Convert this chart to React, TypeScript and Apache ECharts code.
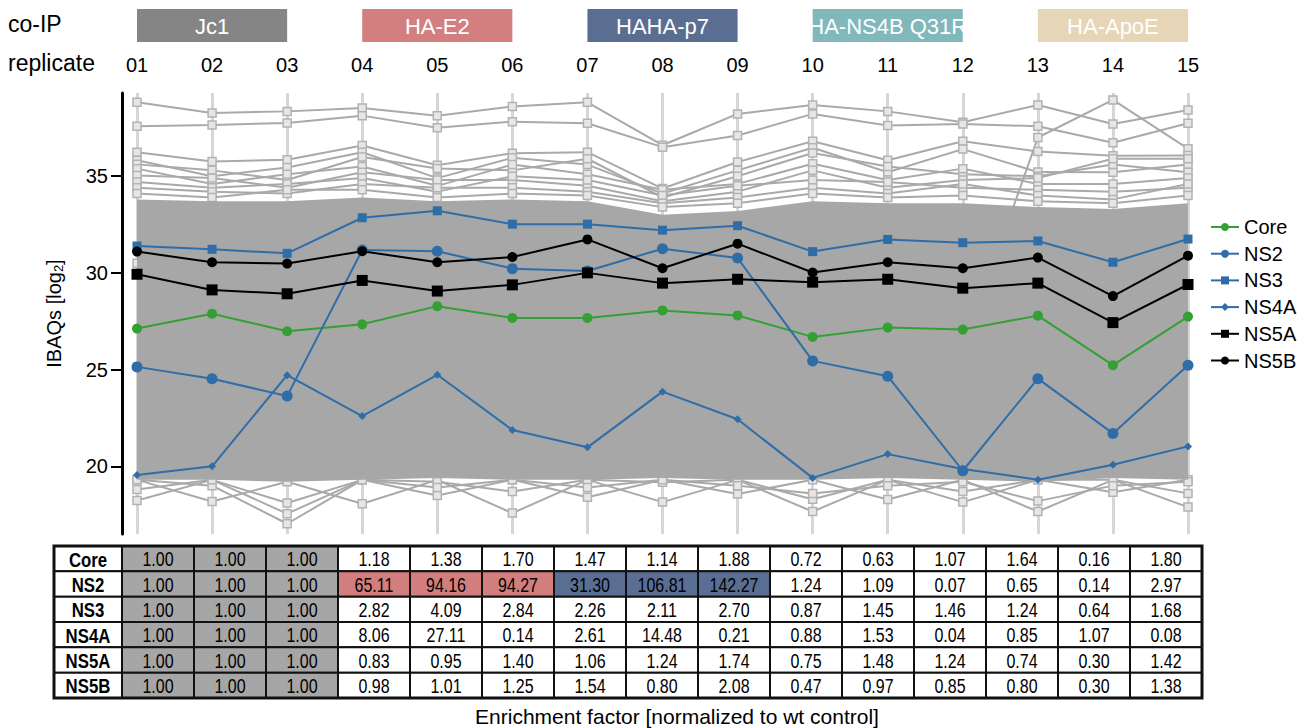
import React, { useEffect, useRef } from "react";
import * as echarts from "echarts";

// ---------- data ----------
const replicates = ["01", "02", "03", "04", "05", "06", "07", "08", "09", "10", "11", "12", "13", "14", "15"];
const coipGroups = ["Jc1", "HA-E2", "HAHA-p7", "HA-NS4B Q31R", "HA-ApoE"];
const groupColors = ["#858585", "#d47f7f", "#5a6e92", "#80b8bc", "#e6d5b6"];
const groupStart = [0, 3, 6, 9, 12];
const yTicks = [20, 25, 30, 35];

// highlighted viral proteins (log2 iBAQ)
const core = [27.12, 27.89, 26.98, 27.34, 28.28, 27.67, 27.67, 28.06, 27.8, 26.69, 27.17, 27.07, 27.79, 25.23, 27.74];
const ns2 = [25.14, 24.53, 23.63, 31.18, 31.12, 30.22, 30.1, 31.25, 30.77, 25.45, 24.66, 19.77, 24.53, 21.7, 25.23];
const ns3 = [31.39, 31.22, 31.01, 32.85, 33.21, 32.52, 32.52, 32.21, 32.44, 31.1, 31.73, 31.56, 31.65, 30.55, 31.75];
const ns4a = [19.55, 20.0, 24.71, 22.6, 24.73, 21.88, 20.98, 23.86, 22.43, 19.4, 20.63, 19.86, 19.31, 20.08, 21.03];
const ns5a = [29.93, 29.12, 28.92, 29.61, 29.06, 29.38, 30.0, 29.47, 29.67, 29.52, 29.67, 29.21, 29.47, 27.43, 29.4];
const ns5b = [31.1, 30.55, 30.48, 31.12, 30.55, 30.82, 31.73, 30.24, 31.51, 30.02, 30.55, 30.24, 30.79, 28.8, 30.89];

// dense background of host proteins: envelope of the solid mass
const bandTop = [33.8, 33.7, 33.7, 33.9, 33.7, 33.8, 33.7, 33.0, 33.2, 33.7, 33.6, 33.6, 33.4, 33.3, 33.6];
const bandBottom = [19.3, 19.3, 19.2, 19.3, 19.4, 19.3, 19.3, 19.4, 19.3, 19.3, 19.4, 19.3, 19.2, 19.4, 19.3];

// individual background proteins visible outside the mass
const top1 = [38.82, 38.27, 38.35, 38.53, 38.12, 38.6, 38.82, 36.6, 38.22, 38.68, 38.35, 37.79, 38.68, 37.7, 38.42];
const top2 = [37.58, 37.65, 37.75, 38.13, 37.5, 37.82, 37.74, 36.5, 37.1, 38.22, 37.62, 37.7, 37.58, 36.73, 37.74];
const top3 = [30.5, 30.2, 30.8, 31.0, 30.4, 30.6, 30.9, 30.1, 30.5, 29.8, 28.4, 26.0, 37.0, 38.94, 36.42];
const mid1 = [36.24, 35.76, 35.85, 36.59, 35.56, 36.19, 36.24, 34.36, 35.73, 36.81, 35.82, 36.81, 36.28, 36.05, 36.07];
const mid2 = [35.82, 35.0, 35.45, 36.24, 34.9, 35.95, 35.6, 34.1, 35.3, 36.47, 35.2, 36.4, 35.21, 35.2, 35.6];
const mid3 = [35.61, 35.3, 34.8, 35.99, 35.4, 35.3, 35.9, 33.9, 35.0, 36.2, 35.5, 35.1, 35.0, 35.6, 35.2];
const mid4 = [35.39, 34.6, 35.1, 35.5, 34.5, 35.6, 35.1, 34.3, 34.6, 35.64, 34.8, 35.39, 34.6, 34.6, 34.9];
const mid5 = [35.04, 34.9, 34.4, 35.2, 34.8, 34.8, 34.5, 33.7, 34.2, 35.3, 34.4, 34.8, 34.9, 35.9, 35.9];
const mid6 = [34.7, 34.4, 34.6, 34.9, 34.2, 35.0, 34.8, 34.0, 34.5, 34.8, 34.7, 34.4, 34.3, 34.2, 34.4];
const mid7 = [34.4, 34.2, 34.1, 34.6, 34.4, 34.4, 34.2, 33.6, 33.9, 34.4, 34.1, 34.6, 34.0, 33.8, 34.6];
const mid8 = [34.1, 33.9, 34.3, 34.3, 33.9, 34.1, 34.0, 33.4, 33.6, 34.1, 33.9, 34.0, 33.7, 33.6, 34.0];
const low1 = [18.23, 19.3, 17.55, 19.3, 18.49, 19.3, 18.4, 19.3, 18.57, 19.3, 18.28, 19.3, 17.66, 19.3, 17.89];
const low2 = [19.3, 18.18, 19.2, 18.06, 19.3, 17.58, 19.3, 18.15, 19.3, 17.66, 19.3, 18.15, 19.3, 18.66, 19.3];
const low3 = [19.3, 19.0, 17.03, 19.3, 19.2, 18.7, 19.3, 19.18, 19.3, 18.3, 19.3, 18.7, 19.3, 19.3, 18.6];
const low4 = [18.8, 19.3, 18.1, 19.3, 18.9, 19.3, 18.9, 19.3, 19.0, 18.6, 19.0, 19.2, 18.2, 19.0, 19.2];

// enrichment table
const rowNames = ["Core", "NS2", "NS3", "NS4A", "NS5A", "NS5B"];
const tCore = [1.0, 1.0, 1.0, 1.18, 1.38, 1.7, 1.47, 1.14, 1.88, 0.72, 0.63, 1.07, 1.64, 0.16, 1.8];
const tNS2 = [1.0, 1.0, 1.0, 65.11, 94.16, 94.27, 31.3, 106.81, 142.27, 1.24, 1.09, 0.07, 0.65, 0.14, 2.97];
const tNS3 = [1.0, 1.0, 1.0, 2.82, 4.09, 2.84, 2.26, 2.11, 2.7, 0.87, 1.45, 1.46, 1.24, 0.64, 1.68];
const tNS4A = [1.0, 1.0, 1.0, 8.06, 27.11, 0.14, 2.61, 14.48, 0.21, 0.88, 1.53, 0.04, 0.85, 1.07, 0.08];
const tNS5A = [1.0, 1.0, 1.0, 0.83, 0.95, 1.4, 1.06, 1.24, 1.74, 0.75, 1.48, 1.24, 0.74, 0.3, 1.42];
const tNS5B = [1.0, 1.0, 1.0, 0.98, 1.01, 1.25, 1.54, 0.8, 2.08, 0.47, 0.97, 0.85, 0.8, 0.3, 1.38];

// ---------- styles ----------
const SANS = "'Liberation Sans', Arial, Helvetica, sans-serif";
const BLUE = "#2f6da8";
const GREEN = "#34a033";
const BAND = "#a6a7a6";

function cellColor(r: number, c: number): string {
  if (c < 3) return "#a6a6a6";
  if (rowNames[r] === "NS2" && c >= 3 && c <= 5) return "#d27e7e";
  if (rowNames[r] === "NS2" && c >= 6 && c <= 8) return "#5a6e93";
  return "#ffffff";
}

export default function App() {
  const ref = useRef<HTMLDivElement>(null);

  useEffect(() => {
    if (!ref.current) return;
    const chart = echarts.init(ref.current, undefined, { renderer: "svg" });

    const grayLine = (name: string, data: number[]) => ({
      type: "line",
      name,
      data,
      xAxisIndex: 0,
      yAxisIndex: 0,
      symbol: "rect",
      symbolSize: 8,
      lineStyle: { color: "#a9a9a9", width: 2 },
      itemStyle: { color: "#e6e6e6", borderColor: "#b3b3b3", borderWidth: 1.5 },
      emphasis: { disabled: true },
      silent: true,
      z: 2,
    });

    const colored = (name: string, data: number[], color: string, symbol: string, size: number) => ({
      type: "line",
      name,
      data,
      xAxisIndex: 0,
      yAxisIndex: 0,
      symbol,
      symbolSize: size,
      showAllSymbol: true,
      lineStyle: { color, width: 2 },
      itemStyle: { color },
      emphasis: { disabled: true },
      z: 4,
    });

    const tableValues = [tCore, tNS2, tNS3, tNS4A, tNS5A, tNS5B];
    const tableCells: number[][] = [];
    tableValues.forEach((row, r) => row.forEach((v, c) => tableCells.push([c, r, v])));
    const labelCells = rowNames.map((_, r) => [0, r, r]);

    const cellRender = (kind: "value" | "label") => (params: any, api: any) => {
      const c = api.value(0);
      const r = api.value(1);
      const v = api.value(2);
      const center = api.coord([c, r]);
      const size = api.size([1, 1]);
      const w = size[0];
      const h = size[1];
      const text = kind === "value" ? Number(v).toFixed(2) : rowNames[r];
      const fill = kind === "value" ? cellColor(r, c) : "#ffffff";
      return {
        type: "group",
        children: [
          {
            type: "rect",
            shape: { x: center[0] - w / 2, y: center[1] - h / 2, width: w, height: h },
            style: { fill, stroke: "#111", lineWidth: 2 },
          },
          {
            type: "text",
            x: center[0],
            y: center[1] + 1,
            scaleX: kind === "label" ? 0.84 : 0.8,
            style: {
              text,
              fontSize: 20,
              fontWeight: kind === "label" ? "bold" : "normal",
              fontFamily: SANS,
              fill: "#000",
              textAlign: "center",
              textVerticalAlign: "middle",
            },
          },
        ],
      };
    };

    const option: any = {
      animation: false,
      backgroundColor: "#fff",
      grid: [
        { left: 137, right: 118, top: 93, bottom: 194 },
        { left: 122, top: 546, width: 1080, height: 152 },
        { left: 54, top: 546, width: 68, height: 152 },
      ],
      xAxis: [
        {
          gridIndex: 0,
          type: "category",
          data: replicates,
          boundaryGap: false,
          position: "top",
          axisLine: { show: false },
          axisTick: { show: false },
          axisLabel: { margin: 18, fontSize: 20, fontFamily: SANS, color: "#000" },
          splitLine: { show: true, lineStyle: { color: "#d6d6d6", width: 3 } },
        },
        { gridIndex: 1, type: "category", data: replicates, show: false },
        { gridIndex: 2, type: "category", data: [""], show: false },
      ],
      yAxis: [
        {
          gridIndex: 0,
          type: "value",
          min: 16.5,
          max: 39.3,
          offset: 15,
          axisLine: { show: true, lineStyle: { color: "#000", width: 3 } },
          axisTick: { show: true, length: 11, lineStyle: { width: 2, color: "#000" }, customValues: yTicks },
          axisLabel: { customValues: yTicks, margin: 14, fontSize: 20, fontFamily: SANS, color: "#000" },
          splitLine: { show: false },
          name: "{n|IBAQs [log}{s|2}{n|]}",
          nameLocation: "middle",
          nameGap: 57,
          nameTextStyle: {
            rich: {
              n: { fontSize: 20, fontFamily: SANS, color: "#000" },
              s: { fontSize: 13, fontFamily: SANS, color: "#000", padding: [10, 0, 0, 0] },
            },
          },
        },
        { gridIndex: 1, type: "category", data: rowNames, inverse: true, show: false },
        { gridIndex: 2, type: "category", data: rowNames, inverse: true, show: false },
      ],
      legend: {
        data: ["Core", "NS2", "NS3", "NS4A", "NS5A", "NS5B"],
        orient: "vertical",
        left: 1205,
        top: 212,
        itemWidth: 28,
        itemHeight: 10,
        itemGap: 6.7,
        selectedMode: false,
        textStyle: { fontSize: 20, fontFamily: SANS, color: "#000" },
      },
      series: [
        grayLine("top1", top1),
        grayLine("top2", top2),
        grayLine("top3", top3),
        grayLine("mid1", mid1),
        grayLine("mid2", mid2),
        grayLine("mid3", mid3),
        grayLine("mid4", mid4),
        grayLine("mid5", mid5),
        grayLine("mid6", mid6),
        grayLine("mid7", mid7),
        grayLine("mid8", mid8),
        grayLine("low1", low1),
        grayLine("low2", low2),
        grayLine("low3", low3),
        grayLine("low4", low4),
        {
          type: "line",
          name: "bandBase",
          stack: "band",
          data: bandBottom,
          symbol: "none",
          lineStyle: { width: 0, opacity: 0 },
          silent: true,
          z: 3,
        },
        {
          type: "line",
          name: "bandFill",
          stack: "band",
          data: bandTop.map((v, i) => +(v - bandBottom[i]).toFixed(3)),
          symbol: "none",
          lineStyle: { width: 0, opacity: 0 },
          areaStyle: { color: BAND, opacity: 1 },
          silent: true,
          z: 3,
        },
        colored("Core", core, GREEN, "circle", 10),
        colored("NS2", ns2, BLUE, "circle", 11),
        colored("NS3", ns3, BLUE, "rect", 9),
        colored("NS4A", ns4a, BLUE, "diamond", 8),
        colored("NS5A", ns5a, "#000", "rect", 11),
        colored("NS5B", ns5b, "#000", "circle", 10),
        {
          type: "custom",
          name: "table",
          xAxisIndex: 1,
          yAxisIndex: 1,
          data: tableCells,
          renderItem: cellRender("value"),
          silent: true,
          z: 5,
        },
        {
          type: "custom",
          name: "tableLabels",
          xAxisIndex: 2,
          yAxisIndex: 2,
          data: labelCells,
          renderItem: cellRender("label"),
          silent: true,
          z: 5,
        },
      ],
    };

    chart.setOption(option);

    // header boxes positioned through the x axis
    const px = (i: number) => chart.convertToPixel({ xAxisIndex: 0 }, i) as number;
    const graphics: any[] = [
      { type: "text", left: 8, top: 12, style: { text: "co-IP", fontSize: 23, fontFamily: SANS, fill: "#000" } },
      { type: "text", left: 8, top: 51, style: { text: "replicate", fontSize: 23, fontFamily: SANS, fill: "#000" } },
      {
        type: "rect",
        shape: { x: 54, y: 546, width: 1148, height: 152 },
        style: { fill: "none", stroke: "#111", lineWidth: 3 },
        z: 10,
      },
      {
        type: "text",
        x: 677,
        y: 716,
        style: {
          text: "Enrichment factor [normalized to wt control]",
          fontSize: 21,
          fontFamily: SANS,
          fill: "#000",
          textAlign: "center",
          textVerticalAlign: "middle",
        },
      },
    ];
    coipGroups.forEach((g, k) => {
      const x1 = px(groupStart[k]);
      const x2 = px(groupStart[k] + 2);
      graphics.push({
        type: "rect",
        shape: { x: x1, y: 9, width: x2 - x1, height: 33 },
        style: { fill: groupColors[k] },
      });
      graphics.push({
        type: "text",
        x: (x1 + x2) / 2,
        y: 26,
        style: {
          text: g,
          fontSize: 22,
          fontFamily: SANS,
          fill: "#fff",
          textAlign: "center",
          textVerticalAlign: "middle",
        },
      });
    });
    chart.setOption({ graphic: graphics });

    return () => chart.dispose();
  }, []);

  return (
    <div
      ref={ref}
      style={{ position: "fixed", left: 0, top: 0, width: 1306, height: 728, background: "#fff" }}
    />
  );
}
